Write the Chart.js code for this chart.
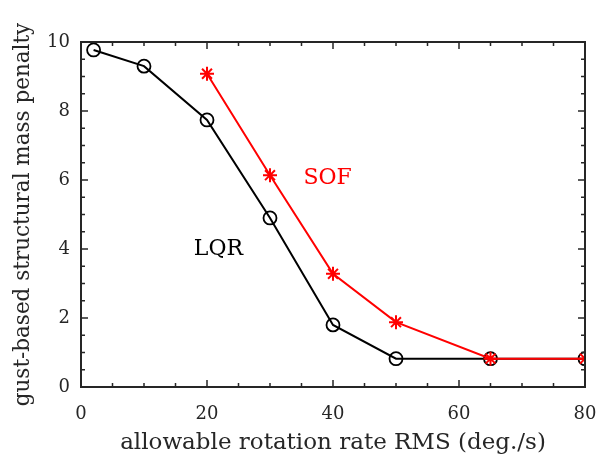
<!DOCTYPE html>
<html lang="en">
<head>
    <meta charset="UTF-8">
    <title>Gust-based structural mass penalty</title>
    <style>
        body {
            margin: 0;
            background-color: white;
        }

        .chart-container {
            position: relative;
            width: 597px;
            height: 457px;
        }
    </style>
</head>
<body>
    <div class="chart-container">
        <canvas id="lineChart" width="597" height="457"></canvas>
    </div>
    <script src="https://cdn.jsdelivr.net/npm/chart.js"></script>
    <script>
        // Data
        const lqrRates = [2, 10, 20, 30, 40, 50, 65, 80];
        const lqrPenalty = [9.77, 9.30, 7.74, 4.90, 1.80, 0.82, 0.82, 0.82];
        const sofRates = [20, 30, 40, 50, 65, 80];
        const sofPenalty = [9.08, 6.14, 3.28, 1.88, 0.82, 0.82];
        const xTicks = [0, 20, 40, 60, 80];
        const yTicks = [0, 2, 4, 6, 8, 10];

        const font = '"DejaVu Serif", "Liberation Serif", serif';
        const axisColor = '#262626';

        function toPoints(xs, ys) {
            return xs.map((x, i) => ({ x: x, y: ys[i] }));
        }

        // Box, inward ticks and text labels like the MATLAB figure
        const boxPlugin = {
            id: 'box',
            afterDatasetsDraw(chart) {
                const ctx = chart.ctx;
                const a = chart.chartArea;
                const xs = chart.scales.x;
                const ys = chart.scales.y;
                ctx.save();
                ctx.strokeStyle = axisColor;
                ctx.lineWidth = 2;
                ctx.strokeRect(a.left, a.top, a.right - a.left, a.bottom - a.top);

                ctx.lineWidth = 1.5;
                ctx.beginPath();
                for (let v = 0; v <= 80; v += 5) {
                    const px = xs.getPixelForValue(v);
                    const len = v % 20 === 0 ? 7 : 4;
                    ctx.moveTo(px, a.bottom);
                    ctx.lineTo(px, a.bottom - len);
                    ctx.moveTo(px, a.top);
                    ctx.lineTo(px, a.top + len);
                }
                for (let v = 0; v <= 10; v += 0.5) {
                    const py = ys.getPixelForValue(v);
                    const len = v % 2 === 0 ? 7 : 4;
                    ctx.moveTo(a.left, py);
                    ctx.lineTo(a.left + len, py);
                    ctx.moveTo(a.right, py);
                    ctx.lineTo(a.right - len, py);
                }
                ctx.stroke();

                ctx.font = '22px ' + font;
                ctx.textAlign = 'left';
                ctx.textBaseline = 'middle';
                ctx.fillStyle = '#ff0000';
                ctx.fillText('SOF', xs.getPixelForValue(35.3), ys.getPixelForValue(6.06));
                ctx.fillStyle = '#000000';
                ctx.fillText('LQR', xs.getPixelForValue(17.9), ys.getPixelForValue(4.0));
                ctx.restore();
            }
        };

        const chart = new Chart(document.getElementById('lineChart'), {
            type: 'scatter',
            data: {
                datasets: [{
                    label: 'SOF',
                    data: toPoints(sofRates, sofPenalty),
                    showLine: true,
                    borderColor: '#ff0000',
                    backgroundColor: '#ff0000',
                    borderWidth: 2,
                    pointStyle: 'star',
                    pointRadius: 7,
                    pointBorderWidth: 2,
                    order: 0
                }, {
                    label: 'LQR',
                    data: toPoints(lqrRates, lqrPenalty),
                    showLine: true,
                    borderColor: '#000000',
                    backgroundColor: 'rgba(0,0,0,0)',
                    borderWidth: 2,
                    pointStyle: 'circle',
                    pointRadius: 6.5,
                    pointBorderWidth: 1.8,
                    order: 1
                }]
            },
            options: {
                responsive: false,
                animation: false,
                layout: {
                    padding: { top: 42, right: 12, left: 0, bottom: 0 }
                },
                plugins: {
                    legend: { display: false },
                    tooltip: { enabled: false }
                },
                scales: {
                    x: {
                        type: 'linear',
                        min: 0,
                        max: 80,
                        afterBuildTicks: (scale) => {
                            scale.ticks = xTicks.map(v => ({ value: v }));
                        },
                        afterFit: (scale) => {
                            scale.height = 70;
                            scale.paddingLeft = 0;
                            scale.paddingRight = 0;
                        },
                        grid: { display: false, drawTicks: false },
                        border: { display: false },
                        ticks: {
                            color: '#262626',
                            font: { family: font, size: 18 },
                            padding: 17,
                            maxRotation: 0
                        },
                        title: {
                            display: true,
                            text: 'allowable rotation rate RMS (deg./s)',
                            color: '#262626',
                            font: { family: font, size: 23 },
                            padding: { top: 0, bottom: 0 }
                        }
                    },
                    y: {
                        type: 'linear',
                        min: 0,
                        max: 10,
                        afterBuildTicks: (scale) => {
                            scale.ticks = yTicks.map(v => ({ value: v }));
                        },
                        afterFit: (scale) => {
                            scale.width = 81;
                            scale.paddingTop = 0;
                            scale.paddingBottom = 0;
                        },
                        grid: { display: false, drawTicks: false },
                        border: { display: false },
                        ticks: {
                            color: '#262626',
                            font: { family: font, size: 18 },
                            padding: 11
                        },
                        title: {
                            display: true,
                            text: 'gust-based structural mass penalty',
                            color: '#262626',
                            font: { family: font, size: 21.5 },
                            padding: { top: 11, bottom: 0 }
                        }
                    }
                }
            },
            plugins: [boxPlugin]
        });
    </script>
</body>
</html>
